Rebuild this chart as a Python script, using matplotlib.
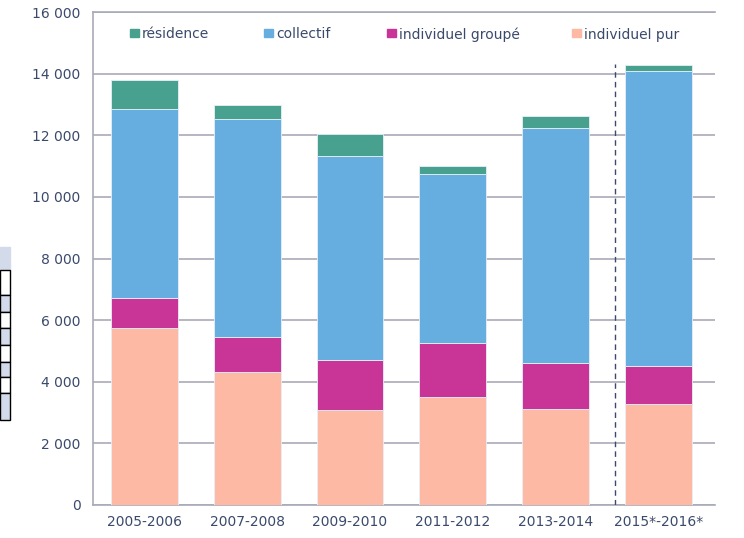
import numpy as np
import matplotlib.pyplot as plt
import matplotlib.patches as patches
from matplotlib.ticker import FuncFormatter

periods = ["2005-2006", "2007-2008", "2009-2010", "2011-2012", "2013-2014", "2015*-2016*"]
individuel_pur = [5750, 4330, 3070, 3490, 3120, 3270]
individuel_groupe = [980, 1120, 1640, 1760, 1480, 1230]
collectif = [6110, 7070, 6610, 5480, 7630, 9600]
residence = [950, 450, 710, 280, 380, 170]

series = [
    ("individuel pur", individuel_pur, "#FDB9A3"),
    ("individuel groupé", individuel_groupe, "#C93597"),
    ("collectif", collectif, "#66AEE0"),
    ("résidence", residence, "#48A08E"),
]

text_col = "#3B4A6B"
grid_col = "#A9AAB8"
W, H = 744, 538

plt.rcParams["font.family"] = "DejaVu Sans"
fig = plt.figure(figsize=(W / 100, H / 100), dpi=100)
ax = fig.add_axes([93 / W, 1 - 505 / H, 622 / W, 493 / H])

x = np.arange(len(periods))
bottom = np.zeros(len(periods))
colors = {}
for name, vals, col in series:
    ax.bar(x, vals, 0.65, bottom=bottom, color=col, edgecolor="#E6F0F8",
           linewidth=0.6, zorder=3)
    colors[name] = col
    bottom += np.array(vals)

# separator for provisional data
ax.vlines(4.58, 0, 14300, colors="#3B4A6B", linestyles=(0, (4, 3)), linewidth=1, zorder=4)

ax.set_xlim(-0.5, 5.55)
ax.set_ylim(0, 16000)
ax.set_yticks(np.arange(0, 16001, 2000))
ax.yaxis.set_major_formatter(FuncFormatter(lambda v, p: f"{int(v):,}".replace(",", " ")))
ax.set_xticks(x)
ax.set_xticklabels(periods)
ax.tick_params(axis="both", length=0, labelsize=10, colors=text_col, pad=7)
ax.tick_params(axis="y", pad=9)
ax.grid(axis="y", color=grid_col, linewidth=1.2, zorder=0)
ax.spines["right"].set_visible(False)
for s in ["left", "top", "bottom"]:
    ax.spines[s].set_color(grid_col)
    ax.spines[s].set_linewidth(1.2)

# legend drawn by hand (uneven column spacing like the original)
order = ["résidence", "collectif", "individuel groupé", "individuel pur"]
marker_px = [130, 264, 387, 572]
for name, mx in zip(order, marker_px):
    fig.patches.append(patches.Rectangle((mx / W, 1 - 37 / H), 9 / W, 8 / H,
                                         transform=fig.transFigure, color=colors[name]))
    fig.text((mx + 12) / W, 1 - 33 / H, name, fontsize=10, color=text_col,
             va="center_baseline", ha="left")

# cropped table fragment at the left edge
fig.patches.append(patches.Rectangle((0, 1 - 270 / H), 10 / W, 23 / H,
                                     transform=fig.transFigure, color="#D3DAEA"))
rows = [270, 295, 312, 328, 345, 362, 377, 393, 420]
for i in range(len(rows) - 1):
    y0, y1 = rows[i], rows[i + 1]
    fc = "#D3DAEA" if i % 2 == 1 else "white"
    fig.patches.append(patches.Rectangle((0, 1 - y1 / H), 10 / W, (y1 - y0) / H,
                                         transform=fig.transFigure, facecolor=fc,
                                         edgecolor="black", linewidth=1))

fig.savefig("out.png", dpi=100)
